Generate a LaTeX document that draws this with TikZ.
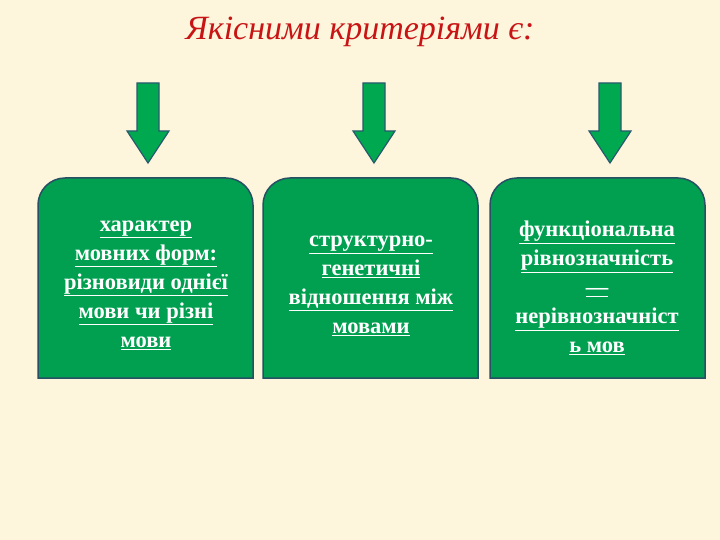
\documentclass[tikz,border=0pt]{standalone}
\usepackage{fontspec}
\setmainfont{Liberation Serif}
\definecolor{bg}{RGB}{253,245,220}
\definecolor{gA}{RGB}{0,168,80}
\definecolor{gB}{RGB}{0,160,80}
\definecolor{edgeA}{RGB}{40,90,110}
\definecolor{edgeB}{RGB}{40,80,100}
\definecolor{ttl}{RGB}{200,20,20}
\begin{document}
\begin{tikzpicture}[x=1pt,y=-1pt,
  arr/.style={fill=gA,draw=edgeA,line width=1.2pt},
  box/.style={fill=gB,draw=edgeB,line width=1.5pt},
  txt/.style={text=white,font=\bfseries\fontsize{22.5}{29}\selectfont,align=center}]
\fill[bg] (0,0) rectangle (720,540);
\useasboundingbox (0,0) rectangle (720,540);
\node[text=ttl,font=\itshape\fontsize{34}{38}\selectfont] (title) at (360,32) {Якісними критеріями є:};
\foreach \c/\n in {148/a1,374/a2,610/a3}{
  \draw[arr] (\c-11,83) -- (\c+11,83) -- (\c+11,131) -- (\c+21,131) -- (\c,163) -- (\c-21,131) -- (\c-11,131) -- cycle;
  \coordinate (\n) at (\c,163);
}
\foreach \l/\r in {38/253,263/478,490/705}{
  \draw[box] (\l,378) -- (\l,205) arc[start angle=180,end angle=270,radius=27] -- (\r-27,178) arc[start angle=270,end angle=360,radius=27] -- (\r,378) -- cycle;
}
\node[txt] (t1) at (146,285) {\underline{характер}\\\underline{мовних форм:}\\\underline{різновиди однієї}\\\underline{мови чи різні}\\\underline{мови}};
\node[txt] (t2) at (371,286) {\underline{структурно-}\\\underline{генетичні}\\\underline{відношення між}\\\underline{мовами}};
\node[txt] (t3) at (597,288) {\underline{функціональна}\\\underline{рівнозначність}\\\underline{—}\\\underline{нерівнозначніст}\\\underline{ь мов}};
\end{tikzpicture}
\end{document}
